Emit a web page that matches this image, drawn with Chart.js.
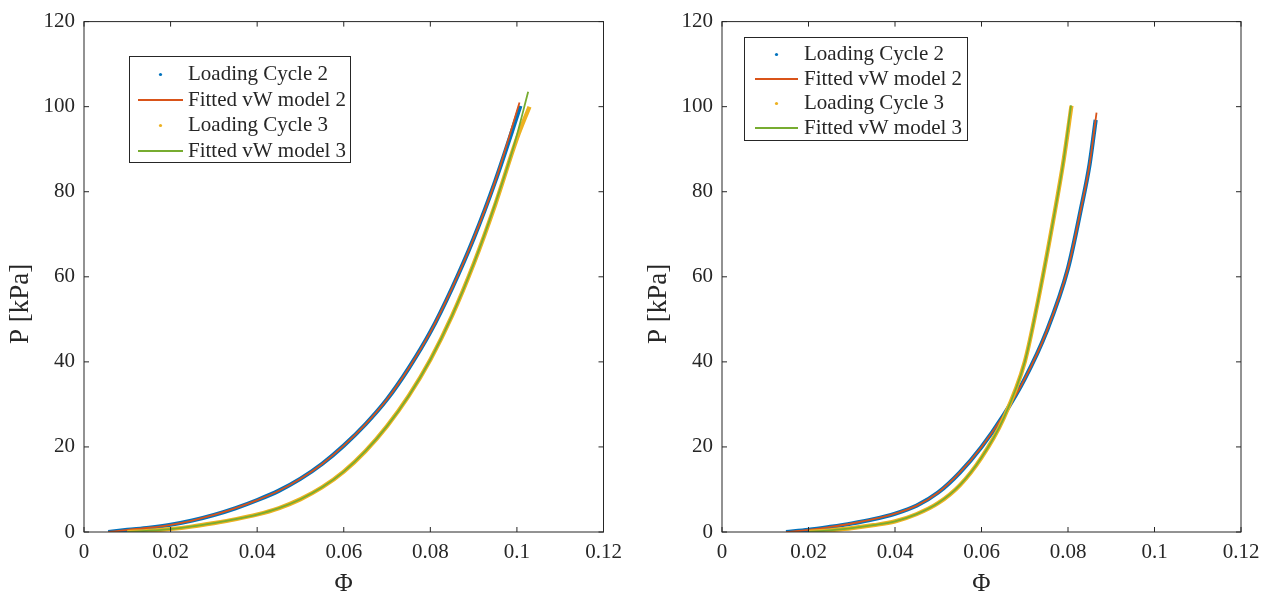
<!DOCTYPE html>
<html>
<head>
<meta charset="utf-8">
<script src="https://cdn.jsdelivr.net/npm/chart.js@4.4.1/dist/chart.umd.min.js"></script>
<style>
  html, body { margin: 0; padding: 0; background: #fff; }
  #wrap { position: relative; width: 1271px; height: 600px; overflow: hidden; }
  canvas { position: absolute; top: 0; }
  #left { left: 0; }
  #right { left: 638px; }
</style>
</head>
<body>
<div id="wrap">
  <canvas id="left" width="636" height="600"></canvas>
  <canvas id="right" width="633" height="600"></canvas>
</div>
<script>
// axis ticks
const phiTicks = [0, 0.02, 0.04, 0.06, 0.08, 0.1, 0.12];
const phiTickLabels = ["0", "0.02", "0.04", "0.06", "0.08", "0.1", "0.12"];
const pTicks = [0, 20, 40, 60, 80, 100, 120];
const pTickLabels = ["0", "20", "40", "60", "80", "100", "120"];

const seriesNames = ["Loading Cycle 2", "Fitted vW model 2", "Loading Cycle 3", "Fitted vW model 3"];

// left panel
const leftCycle2Phi = [0.0056, 0.010, 0.015, 0.020, 0.025, 0.030, 0.035, 0.040, 0.045, 0.050, 0.055, 0.060, 0.065, 0.070, 0.075, 0.080, 0.085, 0.090, 0.095, 0.1008];
const leftCycle2P   = [0, 0.5, 1.0, 1.7, 2.7, 4.0, 5.6, 7.5, 9.7, 12.5, 16.0, 20.3, 25.3, 31.2, 38.5, 47.0, 57.3, 69.0, 82.5, 100.2];
const leftFit2Phi   = [0.0056, 0.010, 0.015, 0.020, 0.025, 0.030, 0.035, 0.040, 0.045, 0.050, 0.055, 0.060, 0.065, 0.070, 0.075, 0.080, 0.085, 0.090, 0.095, 0.1006];
const leftFit2P     = [0, 0.5, 1.0, 1.7, 2.7, 4.0, 5.6, 7.5, 9.7, 12.5, 16.0, 20.3, 25.3, 31.2, 38.5, 47.0, 57.3, 69.0, 82.5, 101.0];
const leftCycle3Phi = [0.010, 0.015, 0.020, 0.025, 0.030, 0.035, 0.040, 0.045, 0.050, 0.055, 0.060, 0.065, 0.070, 0.075, 0.080, 0.085, 0.090, 0.095, 0.100, 0.1029];
const leftCycle3P   = [0, 0.3, 0.7, 1.3, 2.1, 3.0, 4.1, 5.6, 7.7, 10.5, 14.2, 19.0, 24.9, 32.0, 40.5, 50.8, 63.0, 77.0, 92.5, 100.0];
const leftFit3Phi   = [0.010, 0.015, 0.020, 0.025, 0.030, 0.035, 0.040, 0.045, 0.050, 0.055, 0.060, 0.065, 0.070, 0.075, 0.080, 0.085, 0.090, 0.095, 0.0995, 0.1026];
const leftFit3P     = [0, 0.3, 0.7, 1.3, 2.1, 3.0, 4.1, 5.6, 7.7, 10.5, 14.2, 19.0, 24.9, 32.0, 40.5, 50.8, 63.0, 77.2, 91.5, 103.5];

// right panel
const rightCycle2Phi = [0.0148, 0.020, 0.025, 0.030, 0.035, 0.040, 0.045, 0.050, 0.055, 0.060, 0.065, 0.070, 0.075, 0.080, 0.083, 0.085, 0.0864];
const rightCycle2P   = [0, 0.5, 1.2, 2.0, 3.0, 4.3, 6.2, 9.3, 14.0, 20.0, 27.3, 36.0, 47.0, 62.0, 76.0, 86.5, 96.9];
const rightFit2Phi   = [0.0148, 0.020, 0.025, 0.030, 0.035, 0.040, 0.045, 0.050, 0.055, 0.060, 0.065, 0.070, 0.075, 0.080, 0.083, 0.085, 0.0866];
const rightFit2P     = [0, 0.5, 1.2, 2.0, 3.0, 4.3, 6.2, 9.3, 14.0, 20.0, 27.3, 36.0, 47.0, 62.0, 76.0, 86.5, 98.6];
const rightCycle3Phi = [0.020, 0.025, 0.030, 0.035, 0.040, 0.045, 0.050, 0.055, 0.060, 0.065, 0.070, 0.073, 0.0768, 0.079, 0.0808];
const rightCycle3P   = [0, 0.4, 0.9, 1.6, 2.5, 4.2, 6.8, 11.0, 17.5, 26.5, 40.0, 54.0, 74.5, 87.5, 100.2];
const rightFit3Phi   = [0.020, 0.025, 0.030, 0.035, 0.040, 0.045, 0.050, 0.055, 0.060, 0.065, 0.070, 0.073, 0.0768, 0.079, 0.0807];
const rightFit3P     = [0, 0.4, 0.9, 1.6, 2.5, 4.2, 6.8, 11.0, 17.5, 26.5, 40.0, 54.0, 74.5, 87.5, 100.3];

const BLUE = "#0072BD", ORANGE = "#D95319", YELLOW = "#EDB120", GREEN = "#77AC30";
const INK = "#262626";
const SERIF = "'Liberation Serif', 'Times New Roman', serif";

const pts = (xs, ys) => xs.map((x, i) => ({ x: x, y: ys[i] }));

function buildDatasets(c2x, c2y, f2x, f2y, c3x, c3y, f3x, f3y) {
    const common = { showLine: true, pointRadius: 0, cubicInterpolationMode: "monotone", fill: false };
    return [
        { ...common, label: seriesNames[0], data: pts(c2x, c2y), borderColor: BLUE, borderWidth: 4.2, order: 4, mark: "dot" },
        { ...common, label: seriesNames[1], data: pts(f2x, f2y), borderColor: ORANGE, borderWidth: 1.8, order: 3, mark: "line" },
        { ...common, label: seriesNames[2], data: pts(c3x, c3y), borderColor: YELLOW, borderWidth: 4.2, order: 2, mark: "dot" },
        { ...common, label: seriesNames[3], data: pts(f3x, f3y), borderColor: GREEN, borderWidth: 1.8, order: 1, mark: "line" },
    ];
}

// box around the axes, inward ticks on all sides, y title and the legend
const axesBox = {
    id: "axesBox",
    afterDatasetsDraw(chart, args, opts) {
        const { ctx, chartArea: a, scales: { x, y } } = chart;
        ctx.save();
        ctx.strokeStyle = INK;
        ctx.lineWidth = 1;
        ctx.strokeRect(a.left, a.top, a.right - a.left, a.bottom - a.top);
        ctx.beginPath();
        x.ticks.forEach(t => {
            const px = x.getPixelForValue(t.value);
            ctx.moveTo(px, a.bottom); ctx.lineTo(px, a.bottom - 5);
            ctx.moveTo(px, a.top); ctx.lineTo(px, a.top + 5);
        });
        y.ticks.forEach(t => {
            const py = y.getPixelForValue(t.value);
            ctx.moveTo(a.left, py); ctx.lineTo(a.left + 5, py);
            ctx.moveTo(a.right, py); ctx.lineTo(a.right - 5, py);
        });
        ctx.stroke();

        // y axis title
        ctx.save();
        ctx.translate(opts.yTitleX, opts.yTitleY);
        ctx.rotate(-Math.PI / 2);
        ctx.fillStyle = INK;
        ctx.font = "27px " + SERIF;
        ctx.textAlign = "center";
        ctx.textBaseline = "middle";
        ctx.fillText("P [kPa]", 0, 0);
        ctx.restore();

        // legend
        const L = opts.legend;
        ctx.fillStyle = "#fff";
        ctx.fillRect(L.left, L.top, L.width, L.height);
        ctx.strokeStyle = INK;
        ctx.lineWidth = 1;
        ctx.strokeRect(L.left, L.top, L.width, L.height);
        ctx.font = "21px " + SERIF;
        ctx.textAlign = "left";
        ctx.textBaseline = "middle";
        chart.data.datasets.forEach((ds, i) => {
            const ry = L.top + L.first + i * L.gap;
            if (ds.mark === "line") {
                ctx.strokeStyle = ds.borderColor;
                ctx.lineWidth = 2;
                ctx.beginPath();
                ctx.moveTo(L.lineX0, ry); ctx.lineTo(L.lineX1, ry);
                ctx.stroke();
            } else {
                ctx.fillStyle = ds.borderColor;
                ctx.beginPath();
                ctx.arc((L.lineX0 + L.lineX1) / 2, ry, 1.6, 0, Math.PI * 2);
                ctx.fill();
            }
            ctx.fillStyle = INK;
            ctx.fillText(ds.label, L.textX, ry);
        });
        ctx.restore();
    },
};

function makeChart(id, datasets, rightPad, boxOpts) {
    return new Chart(document.getElementById(id), {
        type: "scatter",
        data: { datasets: datasets },
        options: {
            responsive: false,
            animation: false,
            devicePixelRatio: 1,
            layout: { padding: { left: 0, right: rightPad, top: 12.5, bottom: 0 } },
            plugins: { legend: { display: false }, tooltip: { enabled: false }, axesBox: boxOpts },
            scales: {
                x: {
                    type: "linear", min: 0, max: 0.12,
                    afterBuildTicks: s => { s.ticks = phiTicks.map(v => ({ value: v })); },
                    ticks: { callback: (v, i) => phiTickLabels[i], color: INK, padding: 8, maxRotation: 0, autoSkip: false,
                             font: { family: SERIF, size: 21 } },
                    grid: { display: false, drawTicks: false },
                    border: { display: false },
                    title: { display: true, text: "Φ", color: INK, font: { family: SERIF, size: 25 }, padding: { top: 0, bottom: 1 } },
                    afterFit: s => { s.height = 68; },
                },
                y: {
                    type: "linear", min: 0, max: 120,
                    afterBuildTicks: s => { s.ticks = pTicks.map(v => ({ value: v })); },
                    ticks: { callback: (v, i) => pTickLabels[i], color: INK, padding: 9, autoSkip: false,
                             font: { family: SERIF, size: 21 } },
                    grid: { display: false, drawTicks: false },
                    border: { display: false },
                    afterFit: s => { s.width = 84; },
                },
            },
        },
        plugins: [axesBox],
    });
}

makeChart("left",
    buildDatasets(leftCycle2Phi, leftCycle2P, leftFit2Phi, leftFit2P, leftCycle3Phi, leftCycle3P, leftFit3Phi, leftFit3P),
    32.5,
    { yTitleX: 21, yTitleY: 304,
      legend: { left: 129.5, top: 56.5, width: 221, height: 106, first: 18, gap: 25.5, lineX0: 138, lineX1: 183, textX: 188 } });

makeChart("right",
    buildDatasets(rightCycle2Phi, rightCycle2P, rightFit2Phi, rightFit2P, rightCycle3Phi, rightCycle3P, rightFit3Phi, rightFit3P),
    30,
    { yTitleX: 21, yTitleY: 304,
      legend: { left: 106.5, top: 37.5, width: 223, height: 103, first: 17, gap: 24.5, lineX0: 117, lineX1: 160, textX: 166 } });
</script>
</body>
</html>
